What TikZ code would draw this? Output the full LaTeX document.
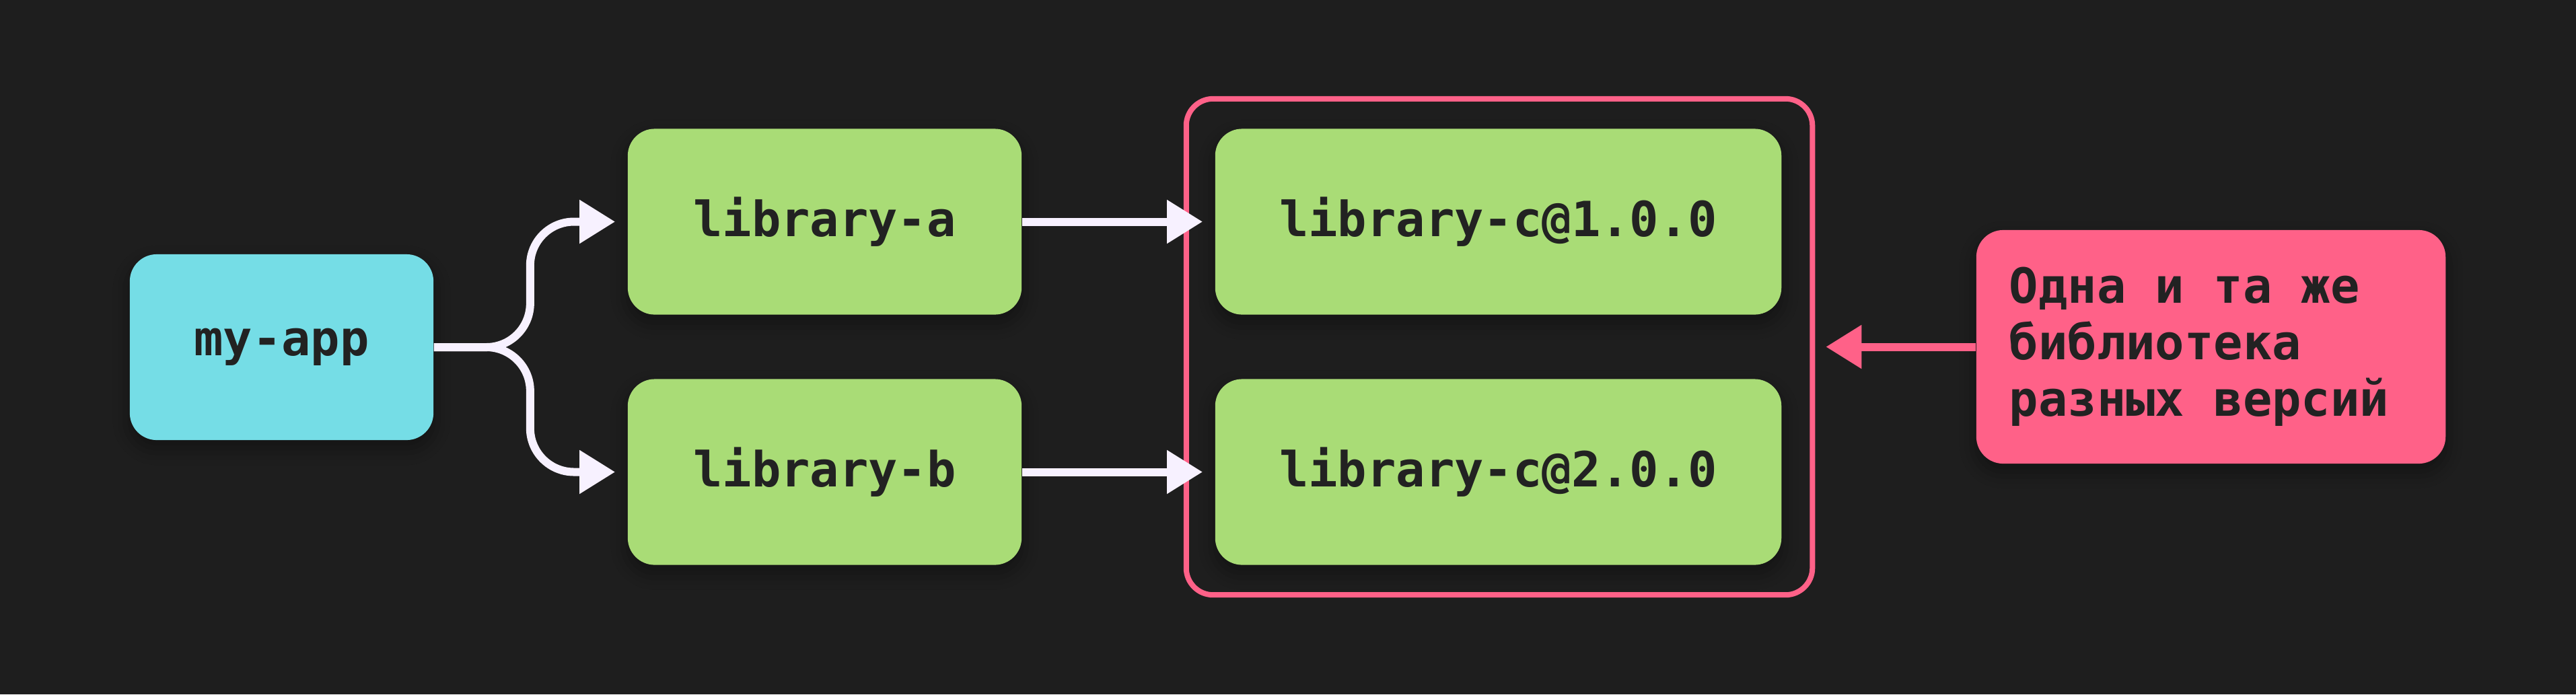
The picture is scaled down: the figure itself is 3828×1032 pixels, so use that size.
\documentclass[tikz,border=0pt]{standalone}
\usepackage{fontspec}
\setmonofont{DejaVu Sans Mono}
\usetikzlibrary{arrows.meta,shadows.blur}
\definecolor{bg}{HTML}{1E1E1E}
\definecolor{ink}{HTML}{222222}
\definecolor{appcol}{HTML}{75DDE6}
\definecolor{libcol}{HTML}{A9DC76}
\definecolor{notecol}{HTML}{FF6188}
\definecolor{wire}{HTML}{F7F1FF}

\begin{document}
\begin{tikzpicture}[x=0.01cm,y=-0.01cm,
	box/.style={rounded corners=0.4cm, text=ink, font=\fontsize{20.5pt}{23.9pt}\selectfont\ttfamily\bfseries,
		blur shadow={shadow xshift=0cm, shadow yshift=-0.12cm, shadow blur radius=0.25cm, shadow opacity=35}},
	lib/.style={box, fill=libcol, minimum width=5.85cm, minimum height=2.76cm},
	link/.style={draw=wire, line width=0.12cm, -{Triangle[length=0.53cm,width=0.62cm]}, shorten >=0.18cm}]
	\fill[bg] (0,0) rectangle (3828,1032);
	\node[draw=notecol, line width=0.08cm, rounded corners=0.4cm, minimum width=9.3cm, minimum height=7.37cm] (grp) at (2228,515.5) {};
	\node[box, fill=appcol, minimum width=4.51cm, minimum height=2.76cm] (myapp) at (418.5,516) {my-app};
	\node[lib] (liba) at (1225.5,329.5) {library-a};
	\node[lib] (libb) at (1225.5,701.5) {library-b};
	\foreach \n/\y in {1/329.5,2/701.5}
		\node[lib, minimum width=8.41cm] (libc\n) at (2226.5,\y) {library-c@\n.0.0};
	\node[box, fill=notecol, minimum height=3.47cm, text width=5.99cm, inner xsep=0.49cm, align=left] (note) at (3285.5,515.5)
		{\spaceskip=0.602em\relax Одна и та же\\библиотека\\разных версий};
	\draw[link, rounded corners=0.65cm] (myapp.east) -- ++(143,0) |- (liba.west);
	\draw[link, rounded corners=0.65cm] (myapp.east) -- ++(143,0) |- (libb.west);
	\foreach \s/\n in {a/1,b/2} \draw[link] (lib\s.east) -- (libc\n.west);
	\draw[link, draw=notecol, shorten >=0.16cm] (note.west) -- (grp.east);
\end{tikzpicture}
\end{document}
